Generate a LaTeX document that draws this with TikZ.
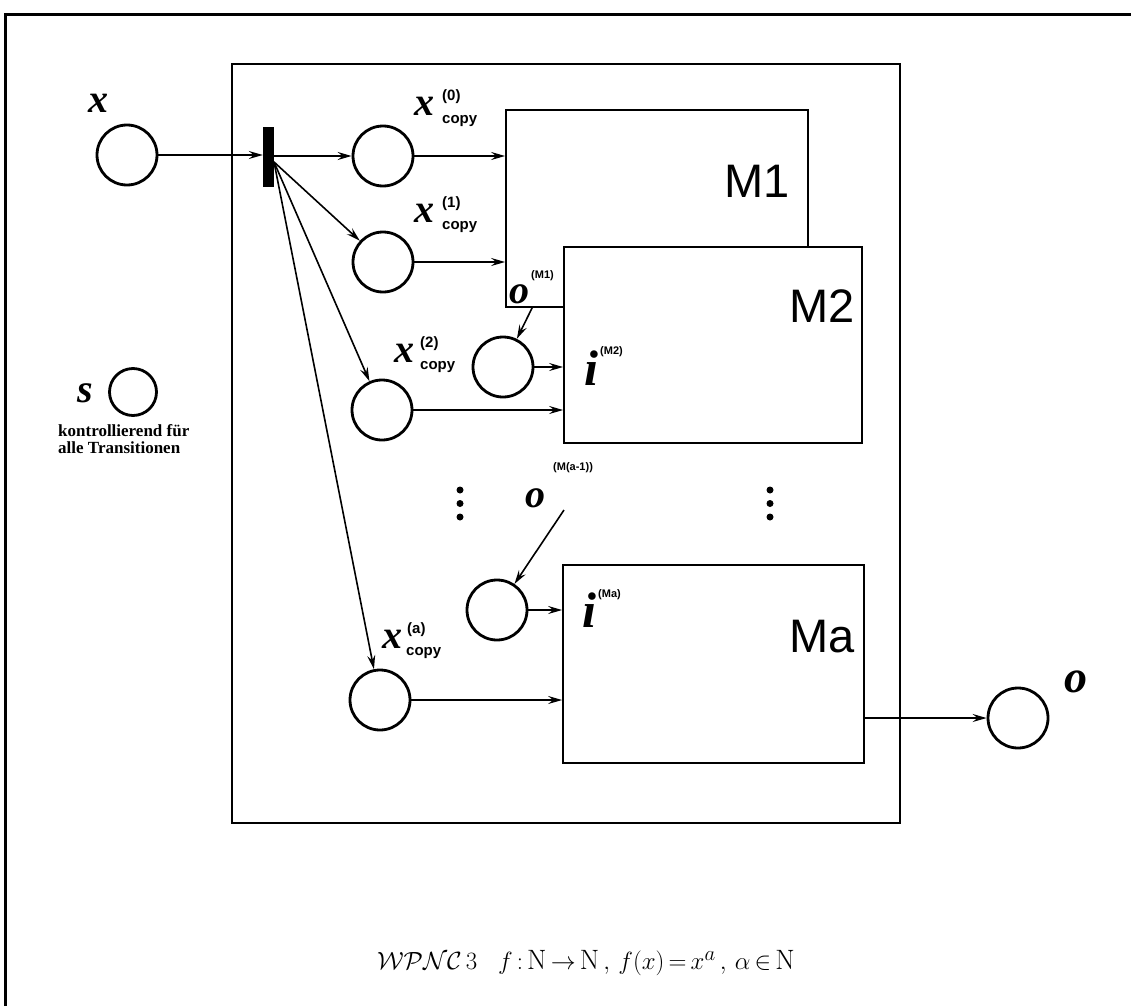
\documentclass[tikz,border=0pt]{standalone}
\usepackage{fontspec}
\newfontfamily\serfont{Liberation Serif}
\newfontfamily\sanfont{Liberation Sans}
\usetikzlibrary{arrows.meta}
\begin{document}
\begin{tikzpicture}[x=1pt,y=-1pt,
  place/.style={circle,draw,line width=2.8pt,minimum size=60pt,inner sep=0pt},
  mbox/.style={draw,fill=white,line width=1.8pt,inner sep=0pt},
  arr/.style={-{Stealth[length=14pt,width=8pt,inset=5pt]},line width=1.6pt},
  lbl/.style={font=\serfont\bfseries\itshape\fontsize{40}{40}\selectfont,inner sep=0pt,anchor=base west},
  ilbl/.style={font=\serfont\bfseries\itshape\fontsize{50}{50}\selectfont,inner sep=0pt,anchor=base west},
  sup/.style={font=\sanfont\bfseries\fontsize{15}{15}\selectfont,inner sep=0pt,anchor=base west},
  msup/.style={font=\sanfont\bfseries\fontsize{11}{11}\selectfont,inner sep=0pt,anchor=base west},
  mlbl/.style={font=\sanfont\fontsize{47}{47}\selectfont,inner sep=0pt,anchor=base east},
  dotn/.style={circle,fill,inner sep=0pt,minimum size=7pt},
]
\useasboundingbox (0,0) rectangle (1131,1006);
% frames
\draw[line width=3pt] (5,1006) -- (5,15) -- (1131,15);
\draw[line width=1.6pt] (232,64) rectangle (900,823);
% boxes
\node[mbox,minimum width=302pt,minimum height=197pt] (M1) at (657,208.5) {};
\node[mbox,minimum width=298pt,minimum height=196pt] (M2) at (713,345) {};
\node[mbox,minimum width=301pt,minimum height=198pt] (Ma) at (713.5,664) {};
\node[mlbl] (lM1) at (790,197) {M1};
\node[mlbl] (lM2) at (855,322) {M2};
\node[mlbl] (lMa) at (855,652) {Ma};
% places
\node[place] (px) at (127,155) {};
\node[place] (c0) at (383,156) {};
\node[place] (c1) at (383,262) {};
\node[place] (c2) at (382,410) {};
\node[place] (ca) at (380,700) {};
\node[place] (cm2) at (503,367) {};
\node[place] (cma) at (497,610) {};
\node[place] (po) at (1018,718) {};
\node[place,minimum size=47pt] (ps) at (133,392) {};
% transition
\node[fill,minimum width=11pt,minimum height=60pt,inner sep=0pt] (t) at (268.5,157) {};
\coordinate (tf) at (274,162);
\coordinate (oma) at (564,510);
% arcs
\draw[arr] (px) -- (px -| t.west);
\draw[arr] (t.east |- c0) -- (c0);
\draw[arr] (tf) -- (c1);
\draw[arr] (tf) -- (c2);
\draw[arr] (tf) -- (ca);
\draw[arr] (c0) -- (c0 -| M1.west);
\draw[arr] (c1) -- (c1 -| M1.west);
\draw[arr] ([xshift=27pt]M1.south west) -- (cm2);
\draw[arr] (cm2) -- (cm2 -| M2.west);
\draw[arr] (c2) -- (c2 -| M2.west);
\draw[arr] (oma) -- (cma);
\draw[arr] (cma) -- (cma -| Ma.west);
\draw[arr] (ca) -- (ca -| Ma.west);
\draw[arr] (Ma.east |- po) -- (po);
% dots
\node[dotn] (d1) at (460,490) {};
\node[dotn] (d2) at (460,503.5) {};
\node[dotn] (d3) at (460,517) {};
\node[dotn] (d4) at (770,490) {};
\node[dotn] (d5) at (770,503.5) {};
\node[dotn] (d6) at (770,517) {};
% labels
\node[lbl] (lx) at (88,113) {x};
\node[lbl] (lx0) at (414,116) {x};
\node[sup] (lx0s) at (442,101) {(0)};
\node[sup] (lx0c) at (442,123) {copy};
\node[lbl] (lx1) at (414,222) {x};
\node[sup] (lx1s) at (442,207) {(1)};
\node[sup] (lx1c) at (442,229) {copy};
\node[lbl] (lx2) at (394,362) {x};
\node[sup] (lx2s) at (420,347) {(2)};
\node[sup] (lx2c) at (420,369) {copy};
\node[lbl] (lxa) at (382,648) {x};
\node[sup] (lxas) at (407,633) {(a)};
\node[sup] (lxac) at (406,655) {copy};
\node[lbl] (lo1) at (509,303) {o};
\node[msup] (lo1s) at (531,278) {(M1)};
\node[ilbl] (li2) at (584,385) {i};
\node[msup] (li2s) at (600,354) {(M2)};
\node[lbl] (loa) at (525,507) {o};
\node[msup] (loas) at (553,470) {(M(a-1))};
\node[ilbl] (lia) at (582,627) {i};
\node[msup] (lias) at (598,597) {(Ma)};
\node[lbl,font=\serfont\bfseries\itshape\fontsize{46}{46}\selectfont] (lo) at (1064,692) {o};
\node[lbl] (ls) at (77,402) {s};
\node[font=\serfont\bfseries\fontsize{17}{17}\selectfont,align=left,anchor=north west,inner sep=0pt] (ltxt) at (58,424) {kontrollierend für\\alle Transitionen};
% formula
\node[font=\fontsize{28}{30}\selectfont,inner sep=0pt] (fm) at (586,963) {$\mathcal{WPNC}\,3\;\;\; f\,{:}\,\mathrm{N}\,{\rightarrow}\,\mathrm{N}\,,\,f(x)\,{=}\,x^{a}\,,\,\alpha\,{\in}\,\mathrm{N}$};
\end{tikzpicture}
\end{document}
